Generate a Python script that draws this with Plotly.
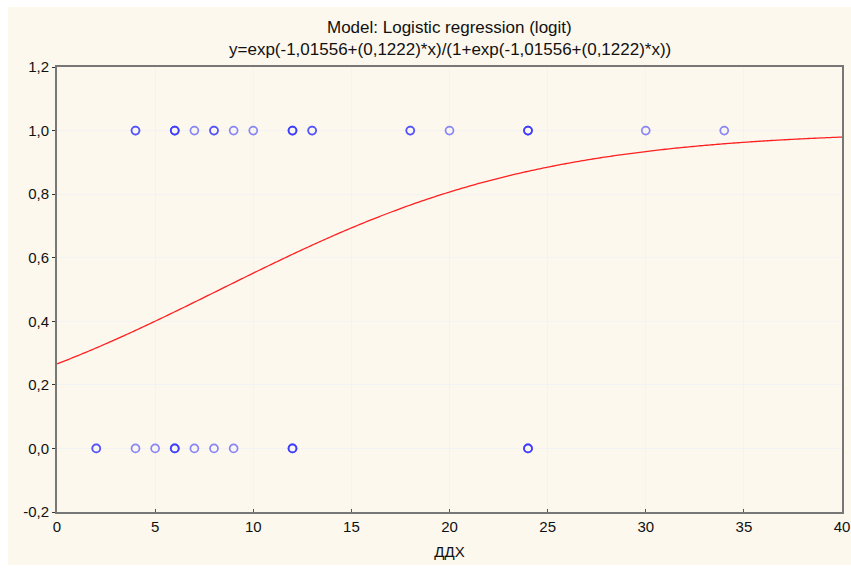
import numpy as np
import plotly.graph_objects as go

x_one = [4, 6, 7, 8, 9, 10, 12, 13, 18, 20, 24, 30, 34]
n_one = [2, 3, 1, 2, 1, 1, 3, 2, 2, 1, 3, 1, 1]
x_zero = [2, 4, 5, 6, 7, 8, 9, 12, 24]
n_zero = [2, 1, 1, 3, 1, 1, 1, 3, 3]

# Model coefficients from the title
b0 = -1.01556
b1 = 0.1222

x_ticks = [0, 5, 10, 15, 20, 25, 30, 35, 40]
y_ticks = [-0.2, 0.0, 0.2, 0.4, 0.6, 0.8, 1.0, 1.2]
y_ticklabels = ["-0,2", "0,0", "0,2", "0,4", "0,6", "0,8", "1,0", "1,2"]

xs, ys = [], []
for xv, n in zip(x_one, n_one):
    xs += [xv] * n
    ys += [1.0] * n
for xv, n in zip(x_zero, n_zero):
    xs += [xv] * n
    ys += [0.0] * n

xc = np.linspace(0, 40, 401)
yc = np.exp(b0 + b1 * xc) / (1 + np.exp(b0 + b1 * xc))

fig = go.Figure()
fig.add_trace(go.Scatter(
    x=xc, y=yc, mode="lines",
    line=dict(color="#ff2020", width=1.3, simplify=False),
    showlegend=False, hoverinfo="skip"))
fig.add_trace(go.Scatter(
    x=xs, y=ys, mode="markers",
    marker=dict(symbol="circle-open", size=8, color="#2a2aff",
                line=dict(width=1.7, color="#2a2aff"), opacity=0.55),
    showlegend=False))

W, H = 851, 568
L, R, T, B = 57, 9, 67, 56
pw = W - L - R
ph = H - T - B

fig.update_layout(
    width=W, height=H,
    margin=dict(l=L, r=R, t=T, b=B, autoexpand=False),
    paper_bgcolor="white",
    plot_bgcolor="white",
    separators=", ",
    font=dict(family="Liberation Sans, Arial, sans-serif", size=15, color="#111"),
    shapes=[dict(type="rect", xref="paper", yref="paper", layer="below",
                 x0=(8 - L) / pw, x1=(W - L) / pw,
                 y0=-(H - 3 - (H - B)) / ph, y1=1 + (T - 7) / ph,
                 fillcolor="#fdf8ee", line=dict(width=0))],
    annotations=[
        dict(text="Model: Logistic regression (logit)", xref="paper", yref="paper",
             x=0.5, y=1 + (T - 27) / ph, showarrow=False, yanchor="middle",
             font=dict(size=17, color="#111")),
        dict(text="y=exp(-1,01556+(0,1222)*x)/(1+exp(-1,01556+(0,1222)*x))",
             xref="paper", yref="paper",
             x=0.5, y=1 + (T - 49) / ph, showarrow=False, yanchor="middle",
             font=dict(size=17, color="#111")),
    ],
    xaxis=dict(
        range=[0, 40], tickvals=x_ticks, automargin=False,
        showline=True, linecolor="#777", linewidth=2, mirror=True,
        ticks="inside", ticklen=3, tickcolor="#555",
        showgrid=True, gridcolor="#f3f3f3", zeroline=False,
        title=dict(text="ДДХ", standoff=12, font=dict(size=15)),
    ),
    yaxis=dict(
        range=[-0.2, 1.2], tickvals=y_ticks, ticktext=y_ticklabels,
        automargin=False,
        showline=True, linecolor="#777", linewidth=2, mirror=True,
        ticks="outside", ticklen=3, tickcolor="#333",
        showgrid=True, gridcolor="#f3f3f3", zeroline=False,
    ),
)

fig.write_html("out.html")
